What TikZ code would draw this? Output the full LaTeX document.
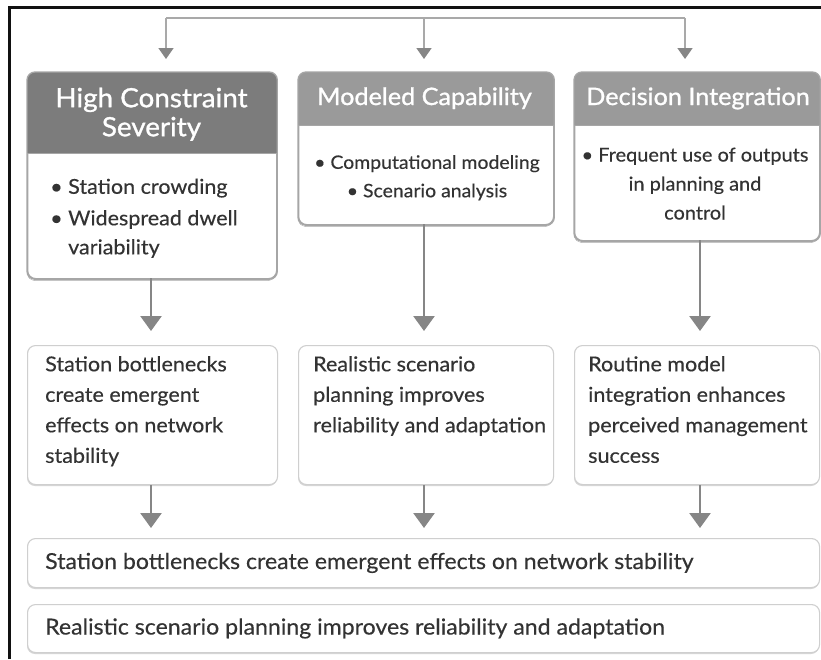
\documentclass[tikz,border=0pt]{standalone}
\usepackage{fontspec}
\setmainfont{Lato}[FakeStretch=1.05, FakeBold=0.35]
\newfontfamily\headfont{Lato}[FakeStretch=1.05, FakeBold=1.1]
\usetikzlibrary{arrows.meta,calc}
\definecolor{frameink}{HTML}{111111}
\definecolor{hdrdark}{HTML}{7C7C7C}
\definecolor{hdrmid}{HTML}{9A9A9A}
\definecolor{boxline}{HTML}{A6A6A6}
\definecolor{softline}{HTML}{CFCFCF}
\definecolor{shade}{HTML}{C4C4C4}
\definecolor{flow}{HTML}{868686}
\definecolor{flowlight}{HTML}{A9A9A9}
\definecolor{ink}{HTML}{333333}
\begin{document}
\begin{tikzpicture}[x=1pt,y=-1pt,
  card/.style={draw=boxline, line width=1.3pt, rounded corners=8pt, fill=white,
    anchor=north west, inner sep=0pt},
  softcard/.style={draw=softline, line width=1.1pt, rounded corners=8pt, fill=white,
    anchor=north west, inner sep=0pt},
  hdrtext/.style={text=white, align=center, inner sep=0pt},
  bodytext/.style={text=ink, inner sep=0pt},
  midtext/.style={text=ink, inner sep=0pt, align=left, anchor=north west,
    font=\fontsize{20.5}{30.5}\selectfont},
  bottext/.style={text=ink, inner sep=0pt, anchor=base west, font=\fontsize{22}{24}\selectfont},
  topflow/.style={draw=flowlight, line width=1.6pt},
  topflowarrow/.style={draw=flowlight, line width=1.6pt,
    -{Triangle[width=15pt,length=11pt,color=flow]}},
  downflow/.style={draw=flow, line width=2.6pt,
    -{Triangle[width=21pt,length=15pt]}},
]
\useasboundingbox (0,0) rectangle (821,659);
\fill[white] (0,0) rectangle (821,659);

% page frame (left and top edges)
\draw[frameink, line width=2.2pt] (9.5,659) -- (9.5,7.5) -- (821,7.5);

% distribution line feeding the three columns
\coordinate (feedL) at (166,18);
\coordinate (feedM) at (424,18);
\coordinate (feedR) at (685,18);
\coordinate (inL) at (166,59);
\coordinate (inM) at (424,59);
\coordinate (inR) at (685,59);
\draw[topflow] (feedL) -- (feedR);
\draw[topflowarrow] (feedL) -- (inL);
\draw[topflowarrow] (feedM) -- (inM);
\draw[topflowarrow] (feedR) -- (inR);

% top cards: shadows
\fill[shade, rounded corners=8pt] (27,74.5) rectangle (276,280.5);
\fill[shade, rounded corners=8pt] (298,74.5) rectangle (553,226.5);
\fill[shade, rounded corners=8pt] (574,74.5) rectangle (819,242.5);

% top cards
\node[card, minimum width=249pt, minimum height=206pt] (c1) at (27,72) {};
\node[card, minimum width=255pt, minimum height=152pt] (c2) at (298,72) {};
\node[card, minimum width=245pt, minimum height=168pt] (c3) at (574,72) {};

% header bands
\begin{scope}
  \clip[rounded corners=8pt] (c1.north west) rectangle (c1.south east);
  \fill[hdrdark] (c1.north west) rectangle ($(c1.north east)+(0,81)$);
\end{scope}
\begin{scope}
  \clip[rounded corners=8pt] (c2.north west) rectangle (c2.south east);
  \fill[hdrmid] (c2.north west) rectangle ($(c2.north east)+(0,53)$);
\end{scope}
\begin{scope}
  \clip[rounded corners=8pt] (c3.north west) rectangle (c3.south east);
  \fill[hdrmid] (c3.north west) rectangle ($(c3.north east)+(0,53)$);
\end{scope}
\draw[boxline, line width=1.3pt, rounded corners=8pt] (c1.north west) rectangle (c1.south east);
\draw[boxline, line width=1.3pt, rounded corners=8pt] (c2.north west) rectangle (c2.south east);
\draw[boxline, line width=1.3pt, rounded corners=8pt] (c3.north west) rectangle (c3.south east);
\draw[boxline, line width=1pt] ($(c1.north west)+(0,81)$) -- ($(c1.north east)+(0,81)$);
\draw[boxline, line width=1pt] ($(c2.north west)+(0,53)$) -- ($(c2.north east)+(0,53)$);
\draw[boxline, line width=1pt] ($(c3.north west)+(0,53)$) -- ($(c3.north east)+(0,53)$);

% header titles
\node[hdrtext, anchor=north, font=\headfont\fontsize{26.5}{29}\selectfont] (h1) at (151.5,87.5)
  {High Constraint\\Severity};
\node[hdrtext, anchor=base, font=\headfont\fontsize{24}{26}\selectfont] (h2) at (424.5,105)
  {Modeled Capability};
\node[hdrtext, anchor=base, font=\headfont\fontsize{24}{26}\selectfont] (h3) at (698,105)
  {Decision Integration};

% card bodies
\node[bodytext, align=left, anchor=north west, font=\fontsize{20.5}{29}\selectfont] (t1) at (50,178.5)
  {\textbullet\ Station crowding\\[2.5pt]\textbullet\ Widespread dwell\\\phantom{\textbullet\ }variability};
\node[bodytext, align=center, anchor=north, font=\fontsize{18.5}{28.4}\selectfont] (t2) at (427,155)
  {\textbullet\ Computational modeling\\\textbullet\ Scenario analysis};
\node[bodytext, align=center, anchor=north, font=\fontsize{19}{29}\selectfont] (t3) at (695,147.5)
  {\textbullet\ Frequent use of outputs\\in planning and\\control};

% outcome cards
\fill[shade!70, rounded corners=8pt] (27,346) rectangle (277,486);
\fill[shade!70, rounded corners=8pt] (298,346) rectangle (553,486);
\fill[shade!70, rounded corners=8pt] (574,346) rectangle (819,486);
\node[softcard, minimum width=250pt, minimum height=139pt] (m1) at (27,345) {};
\node[softcard, minimum width=255pt, minimum height=139pt] (m2) at (298,345) {};
\node[softcard, minimum width=245pt, minimum height=139pt] (m3) at (574,345) {};

\node[midtext] (o1) at (45,356) {Station bottlenecks\\create emergent\\effects on network\\stability};
\node[midtext] (o2) at (313,356) {Realistic scenario\\planning improves\\reliability and adaptation};
\node[midtext] (o3) at (588,356) {Routine model\\integration enhances\\perceived management\\success};

% summary bars
\fill[shade!70, rounded corners=8pt] (27,539.5) rectangle (819,589);
\fill[shade!70, rounded corners=8pt] (27,605.5) rectangle (819,654);
\node[softcard, minimum width=792pt, minimum height=49pt] (s1) at (27,538) {};
\node[softcard, minimum width=792pt, minimum height=48pt] (s2) at (27,604) {};
\node[bottext] (st1) at (45,569) {Station bottlenecks create emergent effects on network stability};
\node[bottext] (st2) at (45,634.5) {Realistic scenario planning improves reliability and adaptation};

% connectors between stages
\coordinate (d1) at (151,278);
\coordinate (d2) at (424,224);
\coordinate (d3) at (700,240);
\draw[downflow, shorten >=14pt] (d1) -- (d1 |- m1.north);
\draw[downflow, shorten >=14pt] (d2) -- (d2 |- m2.north);
\draw[downflow, shorten >=14pt] (d3) -- (d3 |- m3.north);
\draw[downflow, shorten >=10pt] (d1 |- m1.south) -- (d1 |- s1.north);
\draw[downflow, shorten >=10pt] (d2 |- m2.south) -- (d2 |- s1.north);
\draw[downflow, shorten >=10pt] (d3 |- m3.south) -- (d3 |- s1.north);
\end{tikzpicture}
\end{document}
